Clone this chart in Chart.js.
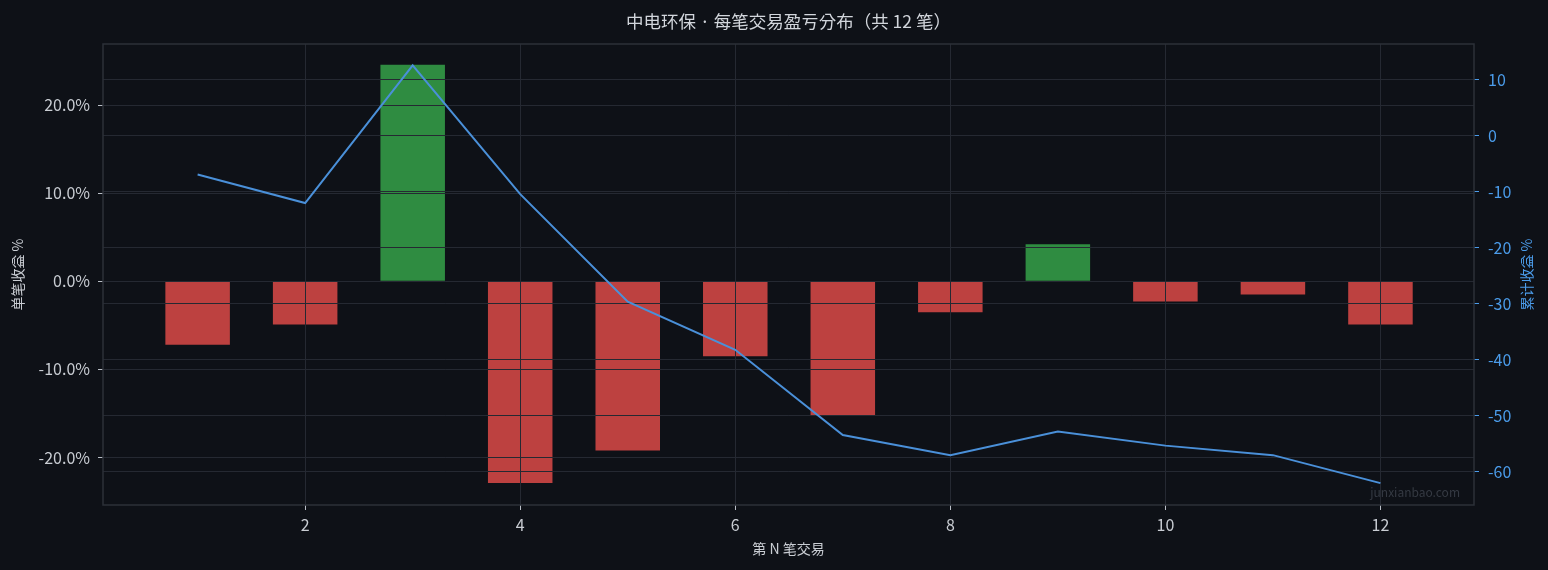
<!DOCTYPE html>
<html>
<head>
<meta charset="utf-8">
<script src="https://cdn.jsdelivr.net/npm/chart.js@4/dist/chart.umd.min.js"></script>
<style>
html,body{margin:0;padding:0;background:#0e1117;}
#c{display:block;}
</style>
</head>
<body>
<canvas id="c" width="1548" height="570"></canvas>
<script>
// ---- data ----
const tradeNo = [1, 2, 3, 4, 5, 6, 7, 8, 9, 10, 11, 12];
const tradeReturnPct = [-7.2, -4.9, 24.6, -22.9, -19.2, -8.5, -15.2, -3.5, 4.2, -2.3, -1.5, -4.9];
const cumulativeReturnPct = [-6.9, -12.0, 12.6, -10.4, -29.6, -38.2, -53.4, -57.0, -52.8, -55.3, -57.0, -62.0];
const xTickValues = [2, 4, 6, 8, 10, 12];
const leftTickValues = [-20, -10, 0, 10, 20];
const rightTickValues = [-60, -50, -40, -30, -20, -10, 0, 10];

const titleText = '中电环保 · 每笔交易盈亏分布（共 12 笔）';
const xTitle = '第 N 笔交易';
const leftTitle = '单笔收益 %';
const rightTitle = '累计收益 %';
const watermark = 'junxianbao.com';

// ---- styles ----
const BG = '#0e1117';
const GRID = '#252932';
const SPINE = '#2c3039';
const TXT = '#c9cdd3';
const BLUE_TXT = '#4b9cea';
const LINE = '#4a90d9';
const RED = '#bd4140';
const GREEN = '#2f8c41';
const FONT = "'Noto Sans CJK KR', 'Noto Sans CJK SC', 'Noto Sans', sans-serif";

const barPoints = tradeNo.map((n, i) => ({x: n, y: tradeReturnPct[i]}));
const linePoints = tradeNo.map((n, i) => ({x: n, y: cumulativeReturnPct[i]}));

const overlayPlugin = {
  id: 'overlay',
  beforeDraw(chart) {
    const ctx = chart.ctx;
    ctx.save();
    ctx.fillStyle = BG;
    ctx.fillRect(0, 0, chart.width, chart.height);
    ctx.restore();
  },
  afterDatasetDraw(chart, args) {
    // matplotlib draws the grid above the bars but below the line
    if (args.meta.type === 'bar') {
      ['y', 'y2', 'x'].forEach(id => chart.scales[id].drawGrid(chart.chartArea));
    }
  },
  afterDraw(chart) {
    const ctx = chart.ctx;
    const a = chart.chartArea;
    ctx.save();
    // frame
    ctx.strokeStyle = SPINE;
    ctx.lineWidth = 1.5;
    ctx.strokeRect(a.left, a.top, a.right - a.left, a.bottom - a.top);
    // title
    ctx.fillStyle = '#d2d6dc';
    ctx.font = '17.5px ' + FONT;
    ctx.textAlign = 'center';
    ctx.textBaseline = 'middle';
    ctx.fillText(titleText, (a.left + a.right) / 2, 21);
    // x title
    ctx.fillStyle = TXT;
    ctx.font = '14px ' + FONT;
    ctx.fillText(xTitle, (a.left + a.right) / 2, 549);
    // left title
    const cy = (a.top + a.bottom) / 2;
    ctx.save();
    ctx.translate(18, cy);
    ctx.rotate(-Math.PI / 2);
    ctx.fillText(leftTitle, 0, 0);
    ctx.restore();
    // right title
    ctx.save();
    ctx.fillStyle = BLUE_TXT;
    ctx.translate(1527, cy);
    ctx.rotate(-Math.PI / 2);
    ctx.fillText(rightTitle, 0, 0);
    ctx.restore();
    // watermark
    ctx.fillStyle = '#353a43';
    ctx.font = '12px ' + FONT;
    ctx.textAlign = 'right';
    ctx.fillText(watermark, a.right - 14, a.bottom - 13);
    ctx.restore();
  }
};

new Chart(document.getElementById('c'), {
  type: 'bar',
  data: {
    datasets: [
      {
        type: 'line',
        label: '累计收益 %',
        data: linePoints,
        yAxisID: 'y2',
        xAxisID: 'x',
        borderColor: LINE,
        borderWidth: 2,
        pointRadius: 0,
        tension: 0,
        fill: false
      },
      {
        type: 'bar',
        label: '单笔收益 %',
        data: barPoints,
        yAxisID: 'y',
        xAxisID: 'x',
        backgroundColor: tradeReturnPct.map(v => v >= 0 ? GREEN : RED),
        borderWidth: 0,
        barPercentage: 0.6,
        categoryPercentage: 1.0
      }
    ]
  },
  options: {
    responsive: false,
    animation: false,
    devicePixelRatio: 1,
    layout: {padding: {top: 44, left: 0, right: 0, bottom: 0}},
    plugins: {
      legend: {display: false},
      title: {display: false},
      tooltip: {enabled: false}
    },
    scales: {
      x: {
        type: 'linear',
        position: 'bottom',
        offset: false,
        min: 0.12,
        max: 12.87,
        afterBuildTicks: s => { s.ticks = xTickValues.map(v => ({value: v})); },
        afterFit: s => { s.height = 65; },
        grid: {color: GRID, lineWidth: 1, tickLength: 5, tickColor: '#b9bec6', drawTicks: true, offset: false},
        border: {display: false},
        ticks: {color: TXT, font: {family: FONT, size: 16}, padding: 5, maxRotation: 0}
      },
      y: {
        type: 'linear',
        position: 'left',
        min: -25.4,
        max: 26.95,
        afterBuildTicks: s => { s.ticks = leftTickValues.map(v => ({value: v})); },
        afterFit: s => { s.width = 103; },
        grid: {color: GRID, lineWidth: 1, tickLength: 5, tickColor: '#b9bec6'},
        border: {display: false},
        ticks: {color: TXT, font: {family: FONT, size: 16}, padding: 8,
          callback: v => Number(v).toFixed(1) + '%'}
      },
      y2: {
        type: 'linear',
        position: 'right',
        min: -65.9,
        max: 16.4,
        afterBuildTicks: s => { s.ticks = rightTickValues.map(v => ({value: v})); },
        afterFit: s => { s.width = 74; },
        grid: {color: GRID, lineWidth: 1, tickLength: 5, tickColor: BLUE_TXT, drawOnChartArea: true},
        border: {display: false},
        ticks: {color: BLUE_TXT, font: {family: FONT, size: 16}, padding: 9,
          callback: v => String(v)}
      }
    }
  },
  plugins: [overlayPlugin]
});
</script>
</body>
</html>
